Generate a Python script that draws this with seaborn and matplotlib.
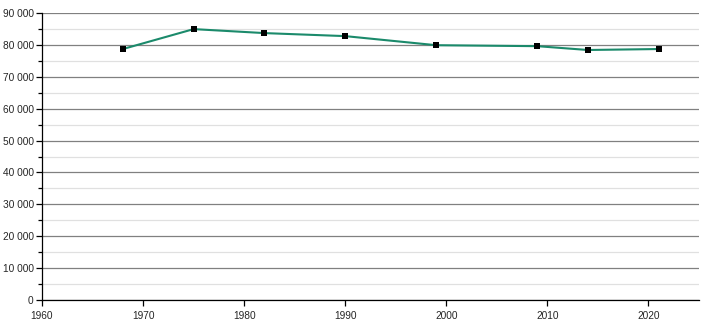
import matplotlib
matplotlib.use("Agg")
import matplotlib.pyplot as plt
import seaborn as sns
import pandas as pd
from matplotlib.ticker import MultipleLocator, FuncFormatter

years = [1968, 1975, 1982, 1990, 1999, 2009, 2014, 2021]
population = [78700, 84950, 83700, 82750, 79900, 79600, 78400, 78700]

df = pd.DataFrame({"year": years, "population": population})

sns.set_style("white")
plt.rcParams['font.family'] = ['Liberation Sans', 'DejaVu Sans']

fig = plt.figure(figsize=(7.1, 3.2), dpi=100)
ax = fig.add_axes([42/710, 20/320, (699-42)/710, (300-13)/320])

ax.set_xlim(1960, 2025)
ax.set_ylim(0, 90000)
ax.yaxis.set_major_locator(MultipleLocator(10000))
ax.yaxis.set_minor_locator(MultipleLocator(5000))
ax.xaxis.set_major_locator(MultipleLocator(10))
ax.grid(which='major', axis='y', color='#808080', linewidth=0.9)
ax.grid(which='minor', axis='y', color='#e0e0e0', linewidth=0.9)
ax.set_axisbelow(True)

sns.lineplot(data=df, x="year", y="population", ax=ax, color="#1b8a6b", linewidth=1.5)
ax.scatter(df["year"], df["population"], marker='s', s=14, color='black', zorder=5, linewidths=0)

ax.yaxis.set_major_formatter(FuncFormatter(lambda v, p: f"{int(v):,}".replace(",", " ")))
for s in ['top', 'right']:
    ax.spines[s].set_visible(False)
for s in ['left', 'bottom']:
    ax.spines[s].set_color('black')
    ax.spines[s].set_linewidth(0.9)
ax.tick_params(axis='both', which='both', direction='out', length=4, width=0.9, color='black', labelsize=7.3, left=True, bottom=True, pad=2)
ax.tick_params(axis='x', pad=4)
ax.tick_params(axis='y', which='minor', length=3)
ax.set_xlabel("")
ax.set_ylabel("")

fig.savefig("out.png", dpi=100)
